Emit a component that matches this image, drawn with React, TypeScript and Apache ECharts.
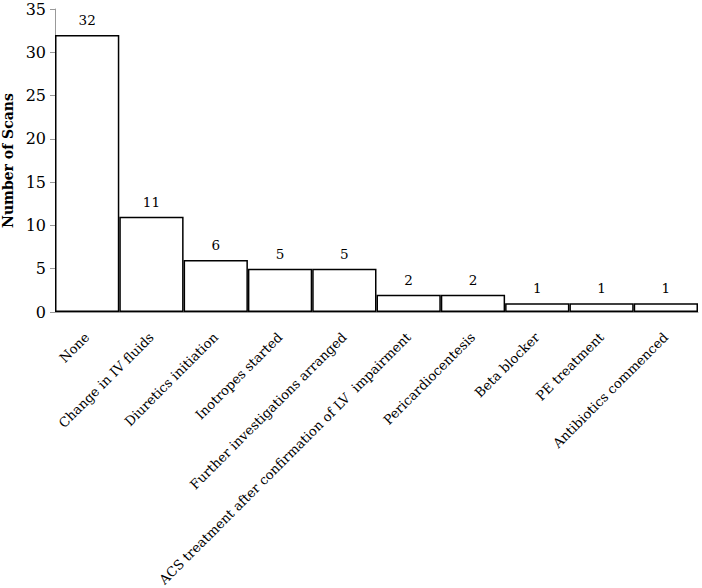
import React, { useEffect, useRef } from "react";
import * as echarts from "echarts";

const categories = [
  "None",
  "Change in IV fluids",
  "Diuretics initiation",
  "Inotropes started",
  "Further investigations arranged",
  "ACS treatment after confirmation of LV  impairment",
  "Pericardiocentesis",
  "Beta blocker",
  "PE treatment",
  "Antibiotics commenced",
];
const scanCounts = [32, 11, 6, 5, 5, 2, 2, 1, 1, 1];
const yMin = 0;
const yMax = 35;
const yInterval = 5;

const FONT = "'DejaVu Serif', 'Liberation Serif', serif";

export default function App() {
  const ref = useRef<HTMLDivElement>(null);
  useEffect(() => {
    if (!ref.current) return;
    const chart = echarts.init(ref.current, undefined, { renderer: "svg" });
    chart.setOption({
      animation: false,
      backgroundColor: "#ffffff",
      grid: {
        left: 55,
        right: 4,
        top: 9,
        bottom: 276,
        containLabel: false,
        outerBoundsMode: "none",
      },
      xAxis: {
        type: "category",
        data: categories,
        axisLine: { lineStyle: { color: "#999999", width: 1 } },
        axisTick: { show: false },
        axisLabel: {
          rotate: 45,
          interval: 0,
          margin: 23,
          fontFamily: FONT,
          fontSize: 13.2,
          color: "#000000",
        },
      },
      yAxis: {
        type: "value",
        min: yMin,
        max: yMax,
        interval: yInterval,
        name: "Number of Scans",
        nameLocation: "middle",
        nameGap: 38,
        nameTextStyle: {
          fontFamily: FONT,
          fontSize: 14,
          fontWeight: "bold",
          color: "#000000",
        },
        axisLine: { show: true, lineStyle: { color: "#999999", width: 1 } },
        axisTick: { show: true, length: 5, lineStyle: { color: "#999999" } },
        splitLine: { show: false },
        axisLabel: {
          fontFamily: FONT,
          fontSize: 16,
          color: "#000000",
          margin: 9,
        },
      },
      series: [
        {
          type: "bar",
          data: scanCounts,
          barCategoryGap: "0%",
          itemStyle: {
            color: "#ffffff",
            borderColor: "#000000",
            borderWidth: 1.5,
          },
          label: {
            show: true,
            position: "top",
            distance: 8,
            fontFamily: FONT,
            fontSize: 13.5,
            color: "#000000",
          },
        },
      ],
    });
    return () => chart.dispose();
  }, []);
  return (
    <div
      ref={ref}
      style={{ position: "absolute", left: 0, top: 0, width: 702, height: 588 }}
    />
  );
}
